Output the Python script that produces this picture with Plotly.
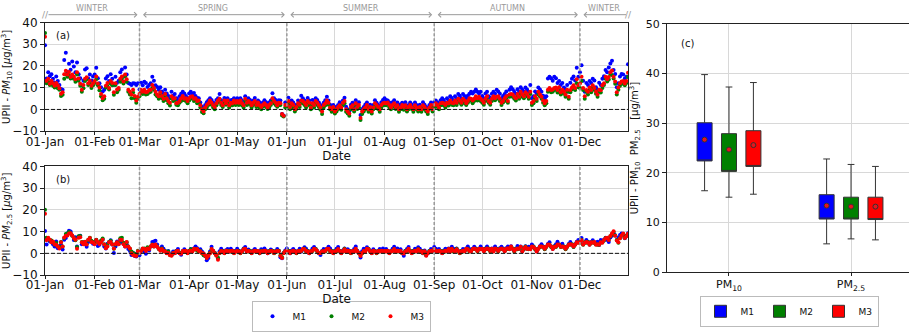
import pandas as pd
import plotly.graph_objects as go

# ---------------- data ----------------
dates = pd.date_range("2019-01-01", "2019-12-31", freq="D")

pm10_m1 = [
    29.5, 14.2, 17.1, 15.3, 16.2, 14.1, 12.4, 15.2, 13.1, 11.3, 9.4, 9.1, 22.8, 26.1, 17.2, 21.0, 18.3, 22.1, 19.8, 17.1, 21.6, 16.2, 14.3, 11.1, 13.2, 18.4, 18.9, 14.2, 16.1, 13.3, 15.2,
    16.1, 19.2, 14.3, 12.1, 10.2, 8.3, 9.1, 14.2, 15.3, 13.1, 16.2, 14.1, 11.2, 15.1, 12.3, 13.2, 17.1, 18.4, 15.2, 19.3, 16.1, 12.2, 11.8, 11.2, 12.1, 11.9, 11.3, 12.0,
    9.2, 12.3, 11.1, 12.8, 12.2, 10.3, 11.2, 12.1, 15.0, 13.2, 11.1, 10.3, 9.1, 10.2, 8.3, 7.2, 9.1, 7.3, 6.2, 5.1, 8.2, 6.3, 7.1, 5.2, 4.3, 6.1, 7.2, 8.1, 7.3, 6.2, 5.3,
    7.3, 8.1, 7.2, 7.6, 6.2, 5.3, 5.1, 3.2, 1.3, 0.2, 2.1, 3.3, 4.2, 5.1, 4.3, 3.2, 2.1, 4.4, 5.2, 7.1, 4.2, 3.1, 5.3, 4.2, 5.1, 3.3, 4.2, 4.5, 5.1, 4.2,
    5.1, 4.3, 5.2, 4.1, 3.3, 6.1, 4.2, 5.1, 4.3, 3.2, 4.1, 5.3, 3.2, 4.1, 3.3, 2.2, 3.1, 4.2, 3.3, 2.1, 3.2, 4.1, 7.5, 5.2, 4.3, 3.1, 4.2, 4.1, -2.1, -2.8, 3.2,
    3.3, 5.4, 2.2, 4.1, 3.2, 1.3, 2.2, 4.1, 3.3, 6.3, 5.2, 4.1, 3.2, 5.3, 4.1, 2.2, 4.3, 3.1, 5.2, 4.3, 3.2, 2.1, 0.2, 3.1, 4.2, 5.8, 4.1, 2.2, 1.3, 2.1,
    0.3, 1.2, 2.1, 3.3, 2.2, 4.1, 5.4, 1.2, 0.1, -0.9, 2.2, 3.1, 1.3, 4.2, 2.1, 3.3, -2.6, 0.2, 1.1, 2.3, 3.2, 1.1, 2.2, 0.3, 2.1, 4.2, 3.1, 2.2, 1.1, 3.3, 4.4,
    5.1, 4.3, 4.1, 3.2, 2.1, 3.3, 4.2, 2.1, 3.2, 1.1, 2.3, 3.1, 2.2, 3.3, 1.2, 2.1, 3.2, 2.3, 1.1, 3.2, 2.1, 1.3, 2.2, 1.1, 3.3, 2.2, 1.1, 0.3, 2.1, 3.2, 1.2,
    3.3, 4.1, 3.2, 2.3, 4.2, 5.1, 4.3, 3.2, 5.1, 4.2, 6.1, 5.3, 4.2, 6.1, 5.2, 7.1, 6.3, 5.2, 7.1, 6.2, 5.1, 6.3, 7.2, 8.1, 7.3, 8.2, 9.2, 8.1, 7.3, 8.2,
    6.2, 5.1, 7.3, 8.2, 6.1, 5.3, 7.2, 8.1, 7.2, 9.1, 8.3, 7.2, 5.1, 6.2, 7.1, 8.3, 6.2, 9.1, 10.2, 9.3, 8.1, 7.2, 9.3, 8.1, 10.2, 9.1, 8.3, 10.1, 9.2, 8.1, 11.2,
    5.2, 6.1, 8.3, 7.2, 10.1, 9.2, 8.1, 6.3, 5.2, 6.1, 14.2, 15.1, 14.3, 13.2, 15.1, 14.3, 12.2, 13.1, 11.3, 12.2, 10.1, 9.3, 11.2, 8.1, 12.3, 14.1, 15.2, 13.3, 19.2, 15.1,
    17.1, 20.3, 13.2, 8.1, 12.2, 11.3, 13.1, 12.2, 14.1, 13.3, 10.2, 9.1, 12.3, 11.2, 14.1, 15.3, 18.2, 17.1, 19.3, 21.2, 22.4, 18.1, 16.3, 10.2, 12.1, 15.2, 16.3, 16.1, 14.2, 15.1, 20.8,
]

pm10_m2 = [
    35.2, 12.1, 12.8, 11.3, 12.2, 10.9, 10.1, 11.2, 9.8, 9.1, 6.2, 6.8, 14.1, 16.2, 15.1, 15.8, 14.2, 14.9, 14.1, 12.8, 16.1, 13.2, 10.9, 8.1, 9.8, 13.1, 13.9, 11.2, 12.1, 9.9, 11.1,
    12.2, 13.9, 11.1, 8.8, 6.1, 4.2, 4.9, 10.1, 10.8, 9.2, 11.9, 11.1, 6.8, 11.2, 7.9, 9.1, 12.8, 14.1, 11.9, 15.2, 12.8, 8.1, 6.9, 5.1, 7.8, 5.2, 3.1, 4.9,
    6.1, 7.9, 7.1, 8.2, 6.9, 7.1, 7.8, 8.1, 9.9, 9.1, 6.9, 6.1, 4.9, 7.1, 5.1, 3.9, 6.1, 4.2, 2.9, 1.8, 5.1, 3.9, 4.1, 2.2, 1.9, 3.1, 3.9, 5.1, 4.2, 3.9, 2.9,
    4.1, 4.9, 5.1, 3.9, 4.2, 2.9, 3.1, 0.9, -1.2, -1.8, 0.1, 0.9, 2.1, 2.9, 2.2, 0.9, 0.1, 1.9, 3.1, 3.8, 2.1, 1.1, 2.9, 2.2, 3.1, 0.9, 2.1, 1.9, 3.2, 2.1,
    2.9, 2.1, 3.2, 1.9, 0.9, 3.9, 2.1, 2.8, 2.2, 0.9, 2.1, 2.9, 1.1, 2.2, 0.9, 0.1, 1.2, 1.9, 1.1, 0.2, 0.9, 2.1, 3.9, 2.9, 2.1, 1.2, 1.9, 2.1, -2.8, -3.2, 0.9,
    1.1, 2.9, 0.1, 2.1, 0.9, -0.9, 0.2, 1.9, 1.1, 3.1, 2.8, 2.1, 0.9, 3.2, 1.9, 0.1, 2.1, 0.9, 2.9, 2.1, 1.1, -0.1, -2.1, 0.9, 1.9, 3.1, 2.2, 0.1, -1.1, 0.2,
    -1.9, -0.9, 0.2, 1.1, -0.1, 1.9, 2.9, -1.1, -1.9, -2.9, 0.1, 1.1, -0.9, 2.1, 0.2, 0.9, -4.8, -2.1, -0.9, 0.1, 1.1, -1.1, 0.2, -1.9, 0.1, 2.1, 0.9, 0.2, -1.1, 0.9, 1.9,
    2.1, 1.9, 2.2, 0.9, 0.1, 1.1, 1.9, 0.2, 0.9, -1.1, 0.1, 0.9, -0.1, 1.1, -0.9, 0.1, 0.9, 0.2, -1.1, 0.9, 0.1, -0.9, 0.2, -1.1, 0.9, 0.1, -0.9, -2.1, 0.2, 1.1, -0.9,
    0.9, 2.1, 1.1, 0.1, 1.9, 2.2, 1.9, 0.9, 2.1, 1.8, 3.1, 2.2, 1.9, 3.1, 2.1, 3.9, 3.1, 2.2, 3.9, 2.9, 2.1, 3.1, 3.9, 4.2, 2.9, 3.9, 5.1, 4.1, 4.9, 3.9,
    3.1, 2.2, 3.9, 4.8, 3.1, 2.2, 3.9, 5.1, 4.2, 4.9, 5.1, 3.9, 2.1, 3.2, 3.9, 5.1, 3.1, 5.9, 6.1, 5.9, 4.9, 4.1, 6.1, 4.9, 7.1, 5.9, 5.1, 6.9, 6.1, 4.9, 7.1,
    2.1, 2.9, 5.1, 3.9, 6.9, 6.1, 4.9, 3.1, 1.9, 2.9, 8.1, 8.9, 7.9, 8.2, 8.9, 9.1, 7.8, 9.2, 6.9, 8.1, 7.2, 5.9, 8.1, 4.9, 7.9, 9.2, 10.1, 8.9, 12.1, 10.2,
    9.9, 13.1, 8.9, 4.9, 8.1, 6.9, 9.2, 7.9, 10.1, 8.9, 7.2, 5.9, 8.1, 7.8, 9.9, 11.2, 14.1, 12.9, 13.8, 16.1, 15.9, 14.2, 11.8, 6.9, 9.1, 10.9, 12.1, 11.8, 11.1, 12.2, 14.9,
]

pm10_m3 = [
    33.4, 13.2, 14.1, 11.8, 13.2, 12.1, 10.9, 12.2, 11.1, 9.8, 7.2, 7.9, 16.2, 17.8, 16.1, 17.2, 14.9, 16.1, 15.2, 13.9, 17.1, 14.2, 11.8, 9.1, 11.2, 14.1, 14.8, 12.1, 13.2, 10.9, 12.1,
    13.1, 15.2, 11.9, 10.1, 7.1, 5.2, 6.1, 10.9, 12.2, 9.9, 13.1, 12.2, 7.9, 12.1, 9.2, 9.9, 14.1, 15.2, 12.9, 16.1, 13.9, 9.1, 8.2, 6.9, 9.1, 6.2, 4.1, 5.9,
    7.1, 8.9, 8.2, 9.1, 7.9, 8.2, 8.9, 9.1, 11.2, 9.9, 8.1, 6.9, 6.1, 7.9, 6.2, 4.9, 7.1, 5.1, 3.9, 3.1, 6.1, 4.9, 5.2, 2.9, 3.1, 3.9, 5.1, 6.2, 4.9, 5.1, 3.9,
    5.1, 5.9, 6.1, 4.9, 5.2, 3.9, 4.1, 1.9, 0.1, -0.9, 0.9, 2.1, 2.9, 4.1, 3.1, 1.9, 1.1, 2.9, 4.1, 4.9, 3.1, 1.9, 4.1, 2.9, 4.1, 1.9, 3.1, 2.9, 4.1, 3.1,
    3.9, 3.1, 4.1, 2.9, 1.9, 4.9, 3.1, 3.9, 3.2, 1.9, 3.1, 3.9, 2.1, 3.2, 1.9, 1.1, 2.1, 2.9, 2.1, 0.9, 2.1, 2.9, 5.1, 3.9, 3.1, 1.9, 3.1, 2.9, -2.1, -2.9, 2.1,
    2.1, 3.9, 1.1, 2.9, 2.1, 0.1, 1.1, 2.9, 2.2, 4.1, 3.9, 3.1, 2.1, 3.9, 3.1, 0.9, 2.9, 2.1, 3.9, 3.1, 2.1, 0.9, -0.9, 2.1, 2.9, 4.1, 3.1, 0.9, 0.1, 1.1,
    -0.9, 0.1, 1.1, 1.9, 0.9, 3.1, 3.9, 0.1, -0.9, -1.9, 1.1, 1.9, 0.1, 2.9, 1.1, 2.1, -3.9, -0.9, 0.1, 0.9, 2.1, 0.1, 1.1, -0.9, 0.9, 2.9, 2.1, 1.1, 0.1, 2.1, 2.9,
    3.1, 2.9, 3.2, 2.1, 0.9, 2.1, 2.9, 1.1, 1.9, 0.1, 0.9, 2.1, 1.1, 1.9, 0.1, 1.1, 2.1, 0.9, 0.1, 1.9, 0.9, 0.1, 1.1, 0.1, 1.9, 1.1, 0.1, -0.9, 0.9, 2.1, 0.1,
    2.1, 2.9, 2.1, 0.9, 2.9, 3.1, 2.9, 2.1, 3.1, 2.9, 4.1, 3.1, 2.9, 4.1, 3.1, 4.9, 4.1, 3.1, 4.9, 4.1, 2.9, 3.9, 5.1, 4.9, 4.1, 4.9, 6.1, 5.1, 5.9, 4.9,
    4.1, 3.1, 4.9, 6.1, 3.9, 3.1, 4.9, 6.1, 5.1, 5.9, 6.1, 4.9, 3.1, 3.9, 5.1, 6.1, 3.9, 6.9, 7.1, 6.9, 5.9, 5.1, 7.1, 5.9, 8.1, 6.9, 6.1, 7.9, 7.1, 5.9, 8.1,
    3.1, 3.9, 6.1, 4.9, 8.1, 6.9, 5.9, 4.1, 2.9, 3.9, 9.1, 9.9, 8.9, 9.2, 9.9, 10.1, 8.9, 10.2, 7.9, 9.1, 8.1, 6.9, 9.1, 5.9, 8.9, 10.1, 11.1, 9.9, 13.9, 11.1,
    11.9, 15.1, 9.9, 6.1, 8.9, 8.1, 10.1, 8.9, 11.1, 9.9, 8.1, 6.9, 9.1, 8.8, 11.1, 12.1, 15.1, 13.9, 14.9, 17.1, 17.9, 15.1, 12.9, 7.9, 10.1, 12.1, 12.9, 13.1, 11.9, 13.1, 16.9,
]

pm25_m1 = [
    10.3, 4.1, 6.2, 5.4, 5.8, 4.2, 3.1, 5.5, 2.4, 3.3, 4.0, 1.8, 6.3, 7.1, 9.2, 10.4, 10.1, 8.2, 6.1, 7.4, 3.2, 7.8, 8.1, 4.2, 5.1, 4.3, 3.0, 5.2, 6.1, 5.3, 4.4,
    5.2, 6.1, 3.4, 4.0, 5.3, 6.2, 3.1, 2.2, 4.4, 5.1, 6.0, 4.1, 0.2, 3.2, 5.4, 4.3, 6.1, 5.2, 4.4, 3.1, 4.2, 2.0, 1.1, -0.8, 0.3, -1.2, -1.5, 0.1,
    -0.9, 1.2, 2.1, 0.8, -0.2, 1.9, 1.3, 3.1, 5.2, 5.4, 5.8, 4.1, 2.2, 1.8, 3.2, 2.1, 1.0, 0.2, 1.1, -0.3, -0.8, 0.9, 0.1, 1.2, 2.0, 0.3, -0.6, 1.1, 1.9, 0.8, 0.2,
    1.1, 2.0, 1.3, 2.2, 3.1, 2.4, 1.2, 1.9, 0.8, -0.1, -1.2, -3.2, -2.1, 0.9, 3.0, 1.1, 0.2, -0.8, -2.3, 1.0, 2.1, 1.2, 0.3, 1.4, 2.0, 0.9, 2.1, 1.3, 0.4, 1.2,
    2.1, 1.2, 0.3, 1.1, 2.2, 2.9, 1.0, 1.8, 1.1, 0.2, 1.3, 2.0, 1.2, 0.8, 0.1, 1.9, 1.1, 2.2, 1.3, 0.1, 1.0, 1.8, 1.2, 0.3, 1.1, 2.0, 1.2, -1.8, -2.2, 0.2, 1.3,
    2.2, 1.1, 0.1, 1.3, 2.0, 1.2, 0.2, 1.1, 2.1, 0.9, 1.8, 2.8, 2.1, 1.2, 0.1, 1.0, 2.2, 2.9, 2.0, 1.1, 0.2, -0.8, 1.1, 2.0, 1.2, 2.1, 3.0, 2.2, 1.1, 0.3,
    1.2, 2.1, 2.9, 1.0, 0.2, 1.3, 2.2, 1.1, 1.9, 1.2, 0.3, 1.1, 2.0, 3.1, 1.2, 0.1, -1.9, 1.0, 2.1, 1.3, 2.8, 2.0, 1.2, 0.2, 1.9, 1.0, 0.3, 1.2, 2.0, 1.1, 2.2,
    1.1, 2.0, 1.2, 0.3, 1.1, 2.1, 3.0, 1.2, 2.2, 1.0, 1.9, 0.2, -1.1, 1.2, 2.0, 2.9, 1.1, 0.3, 1.2, 2.1, 1.0, 2.8, 2.1, 1.2, 0.1, 1.3, -0.9, 0.2, 1.1, 2.0, 1.2,
    2.9, 2.1, 1.2, 2.0, 1.1, 0.2, 1.3, 2.1, 1.0, 2.2, 1.1, 3.0, 2.1, 1.3, 2.2, 1.1, 0.3, 1.2, 2.0, 1.1, 2.2, 3.1, 2.0, 1.2, 2.1, 3.0, 2.2, 1.3, 2.1, 3.2,
    2.1, 1.2, 2.2, 3.1, 2.0, 1.3, 2.2, 1.1, 3.2, 2.1, 1.2, 2.3, 3.0, 2.2, 1.1, 2.4, 3.1, 2.2, 3.3, 2.1, 1.2, 2.2, 3.4, 2.1, 3.2, 1.0, 2.2, 3.3, 2.1, 3.0, 2.2,
    4.1, 3.2, 2.1, 1.0, 2.2, 3.3, 4.2, 3.1, 2.0, 3.2, 4.3, 5.1, 3.2, 2.1, 3.3, 4.2, 5.3, 4.1, 3.2, 4.4, 3.1, 2.0, 3.2, 4.3, 5.2, 4.1, 3.0, 4.2, 5.3, 6.1,
    5.2, 7.1, 4.2, 5.0, 6.1, 5.3, 4.1, 5.2, 6.0, 5.1, 4.2, 5.3, 3.8, 6.1, 5.2, 6.3, 7.2, 6.1, 5.2, 7.3, 8.1, 9.2, 8.3, 6.1, 7.2, 8.4, 9.1, 8.2, 6.9, 8.1, 9.3,
]

pm25_m2 = [
    20.1, 7.2, 7.0, 6.1, 5.9, 5.2, 4.1, 4.8, 3.2, 3.0, 5.2, 3.1, 7.1, 8.9, 9.1, 9.8, 9.2, 8.1, 7.2, 6.0, 2.9, 7.9, 8.0, 5.2, 4.9, 5.1, 4.2, 6.1, 7.2, 5.8, 5.2,
    4.9, 6.2, 5.1, 4.8, 5.9, 6.8, 4.2, 2.9, 3.8, 5.2, 5.8, 4.2, 2.1, 4.1, 5.0, 4.8, 6.9, 7.2, 4.9, 3.8, 5.1, 3.2, 2.1, 0.9, 0.1, -0.2, -0.9, 1.2,
    0.1, 1.2, 2.0, 2.2, 1.9, 2.8, 2.1, 3.2, 4.1, 3.1, 3.9, 3.2, 2.0, 1.9, 2.2, 1.0, 1.1, 0.2, 0.9, -0.8, -0.9, 0.1, 0.2, 1.1, 0.9, 0.2, 0.1, 0.9, 1.1, 1.0, 0.2,
    1.1, 1.9, 1.0, 2.0, 2.1, 1.2, 0.9, 1.1, 0.1, -0.9, -1.1, -1.9, -0.8, 0.2, 1.9, 1.0, 0.2, -0.9, -2.0, 0.1, 1.0, 1.1, 0.2, 0.9, 1.2, 1.0, 0.9, 1.1, 0.2, 1.0,
    0.9, 1.1, 0.1, 0.9, 2.0, 1.9, 1.1, 0.9, 1.2, 0.2, 0.9, 1.0, 1.1, 0.9, 0.1, 1.2, 0.9, 1.0, 0.9, 0.2, 1.1, 0.9, 1.2, 0.1, 1.0, 0.9, 1.2, -0.9, -1.8, 0.2, 0.9,
    0.9, 1.2, 0.2, 0.9, 1.1, 1.0, 0.1, 0.9, 1.2, 1.1, 1.9, 2.1, 0.9, 1.1, 0.2, 0.9, 1.1, 1.9, 2.0, 0.9, 0.2, 0.1, 0.9, 1.1, 1.0, 1.9, 2.0, 0.9, 1.1, 0.2,
    1.1, 0.9, 1.9, 1.2, 0.2, 0.9, 2.1, 1.0, 0.9, 1.1, 0.1, 0.9, 1.1, 1.9, 0.9, 0.2, -0.9, 0.1, 0.9, 1.1, 1.9, 2.1, 0.9, 0.2, 1.0, 1.1, 0.1, 0.9, 1.2, 1.0, 0.9,
    0.9, 1.1, 1.0, 0.2, 0.9, 1.2, 1.9, 1.1, 0.9, 1.2, 0.9, 0.1, 0.2, 1.1, 0.9, 1.9, 1.2, 0.2, 1.1, 0.9, 1.2, 2.0, 0.9, 1.1, 0.1, 0.9, -0.8, 0.2, 1.1, 0.9, 1.2,
    1.9, 1.2, 1.0, 0.9, 1.2, 0.2, 1.1, 0.9, 1.2, 1.9, 1.1, 2.0, 0.9, 1.2, 2.1, 0.9, 0.1, 1.1, 0.9, 1.2, 1.9, 2.1, 0.9, 1.1, 1.9, 2.0, 2.1, 0.9, 1.9, 2.1,
    1.9, 1.1, 2.1, 1.9, 2.2, 0.9, 1.9, 1.1, 2.0, 2.1, 0.9, 1.9, 2.1, 2.0, 1.1, 1.9, 2.1, 2.0, 2.9, 2.2, 0.9, 2.1, 1.9, 2.2, 2.9, 1.1, 1.9, 3.1, 2.2, 1.9, 2.1,
    2.9, 3.1, 1.9, 1.1, 2.1, 2.9, 3.1, 3.0, 1.9, 2.9, 3.9, 4.1, 2.9, 2.2, 3.1, 2.9, 3.9, 4.1, 2.9, 3.2, 3.1, 1.9, 2.9, 4.1, 3.9, 4.2, 2.9, 4.1, 4.9, 5.1,
    4.9, 6.1, 3.9, 5.1, 4.9, 5.2, 4.1, 4.9, 5.1, 4.8, 4.2, 3.9, 4.1, 4.9, 5.1, 5.9, 7.1, 6.9, 6.2, 7.9, 8.9, 9.8, 8.2, 6.1, 4.9, 6.9, 8.1, 8.9, 7.2, 8.1, 8.8,
]

pm25_m3 = [
    18.2, 6.1, 7.2, 6.3, 5.1, 5.4, 4.2, 4.0, 3.1, 2.2, 5.1, 3.2, 7.3, 8.1, 8.2, 9.1, 9.3, 8.2, 7.1, 6.2, 2.1, 7.2, 7.4, 5.1, 4.2, 5.3, 4.1, 6.2, 7.1, 5.2, 5.0,
    4.2, 6.1, 5.2, 4.3, 5.1, 6.2, 4.1, 2.3, 3.2, 5.1, 5.2, 4.1, 2.2, 4.3, 5.1, 4.2, 6.3, 6.1, 4.2, 3.1, 5.2, 3.1, 2.2, 0.1, -0.8, -1.1, -1.2, 1.0,
    0.2, 1.1, 2.2, 2.0, 1.1, 2.2, 1.9, 3.1, 4.0, 3.2, 4.1, 3.0, 2.1, 1.2, 2.0, 1.1, 0.9, 0.1, 0.2, -0.9, -1.1, 0.2, 0.1, 1.0, 1.2, 0.1, -0.2, 1.1, 0.9, 1.2, 0.1,
    1.0, 1.2, 0.9, 2.1, 1.8, 2.0, 1.1, 0.9, 0.2, -0.1, -1.0, -2.1, -1.2, 0.1, 2.0, 1.2, 0.1, -1.1, -3.0, 0.2, 1.1, 0.9, 0.1, 1.2, 1.0, 0.8, 1.1, 1.2, 0.1, 0.9,
    1.1, 0.9, 0.2, 1.0, 1.9, 2.1, 0.8, 1.1, 0.9, 0.1, 1.0, 1.2, 0.9, 1.1, 0.2, 1.0, 0.8, 1.2, 1.1, 0.1, 0.9, 1.1, 1.0, 0.2, 0.9, 1.1, 1.0, -1.2, -2.1, 0.1, 1.0,
    1.1, 0.9, 0.1, 1.0, 1.2, 0.8, 0.2, 1.1, 0.9, 1.2, 2.0, 1.9, 1.1, 0.9, 0.1, 1.0, 1.2, 2.1, 1.8, 1.1, 0.1, 0.2, 1.0, 0.9, 1.2, 2.0, 2.1, 1.1, 0.9, 0.1,
    0.9, 1.2, 2.0, 1.1, 0.1, 1.0, 1.9, 0.9, 1.2, 1.0, 0.2, 1.1, 0.9, 2.1, 1.0, 0.1, -1.2, 0.2, 1.1, 0.9, 2.1, 1.9, 1.0, 0.1, 1.2, 0.9, 0.2, 1.1, 0.9, 1.2, 1.0,
    1.1, 0.9, 1.2, 0.1, 1.0, 1.1, 2.0, 0.9, 1.2, 1.0, 1.1, 0.2, -0.1, 0.9, 1.2, 2.1, 1.0, 0.1, 0.9, 1.2, 1.0, 1.9, 1.1, 0.9, 0.2, 1.0, -1.1, 0.1, 0.9, 1.2, 1.0,
    2.0, 1.1, 0.9, 1.2, 1.0, 0.1, 0.9, 1.2, 1.1, 2.0, 0.9, 2.1, 1.2, 1.0, 1.9, 1.1, 0.2, 0.9, 1.2, 1.0, 2.1, 1.9, 1.1, 0.9, 2.0, 2.2, 1.9, 1.1, 2.1, 1.9,
    2.1, 1.0, 1.9, 2.2, 2.0, 1.1, 2.1, 0.9, 2.2, 1.9, 1.1, 2.0, 2.2, 1.9, 1.0, 2.1, 2.3, 1.9, 3.1, 2.0, 1.1, 1.9, 2.2, 2.1, 3.0, 0.9, 2.1, 2.9, 2.0, 2.2, 1.9,
    3.1, 2.9, 2.1, 0.9, 2.0, 3.1, 3.2, 2.9, 2.1, 3.0, 4.1, 3.9, 3.1, 2.0, 2.9, 3.2, 4.1, 3.9, 3.0, 3.1, 2.9, 2.1, 3.0, 3.9, 4.2, 4.0, 3.1, 3.9, 5.1, 4.9,
    5.1, 6.0, 4.1, 4.9, 5.2, 5.0, 3.9, 5.1, 4.9, 5.2, 4.0, 4.2, 3.9, 5.1, 4.9, 6.1, 7.0, 7.2, 6.1, 8.0, 9.1, 10.2, 8.1, 5.9, 5.1, 7.0, 8.2, 9.1, 7.1, 7.9, 9.0,
]

methods = ["M1", "M2", "M3"]
method_colors = ["#0000ff", "#008000", "#ff0000"]

season_names = ["WINTER", "SPRING", "SUMMER", "AUTUMN", "WINTER"]
season_bounds = ["2019-01-01", "2019-03-01", "2019-06-01", "2019-09-01", "2019-12-01", "2019-12-31"]

box_categories = ["PM<sub>10</sub>", "PM<sub>2.5</sub>"]
box_lower = {"M1": [16.4, 5.7], "M2": [15.1, 6.7], "M3": [15.7, 6.5]}
box_q1 = {"M1": [22.4, 10.7], "M2": [20.3, 10.7], "M3": [21.3, 10.6]}
box_q3 = {"M1": [30.1, 15.6], "M2": [27.9, 15.1], "M3": [28.5, 15.1]}
box_upper = {"M1": [39.8, 22.8], "M2": [37.3, 21.7], "M3": [38.2, 21.3]}
box_mean = {"M1": [26.7, 13.4], "M2": [24.7, 13.2], "M3": [25.6, 13.2]}

for name, s in [("pm10_m1", pm10_m1), ("pm10_m2", pm10_m2), ("pm10_m3", pm10_m3),
                ("pm25_m1", pm25_m1), ("pm25_m2", pm25_m2), ("pm25_m3", pm25_m3)]:
    assert len(s) == len(dates), (name, len(s))

# ---------------- figure ----------------
FONT = "DejaVu Sans"
W, H = 909, 332
fig = go.Figure()

pm10 = [pm10_m1, pm10_m2, pm10_m3]
pm25 = [pm25_m1, pm25_m2, pm25_m3]
for i, m in enumerate(methods):
    fig.add_trace(go.Scatter(x=dates, y=pm10[i], mode="markers", name=m,
                             marker=dict(color=method_colors[i], size=4),
                             xaxis="x", yaxis="y", legend="legend", showlegend=True))
for i, m in enumerate(methods):
    fig.add_trace(go.Scatter(x=dates, y=pm25[i], mode="markers", name=m,
                             marker=dict(color=method_colors[i], size=4),
                             xaxis="x2", yaxis="y2", showlegend=False))

# box plots (median is not drawn in the source; it is placed on the Q1 edge)
offsets = [-0.2, 0.0, 0.2]
for i, m in enumerate(methods):
    pos = [c + offsets[i] for c in range(len(box_categories))]
    fig.add_trace(go.Box(x=pos, q1=box_q1[m], median=box_q1[m], q3=box_q3[m],
                         lowerfence=box_lower[m], upperfence=box_upper[m],
                         width=0.123, whiskerwidth=0.45, name=m,
                         fillcolor=method_colors[i], line=dict(color="#333333", width=1),
                         xaxis="x3", yaxis="y3", legend="legend2", hoverinfo="skip"))
for i, m in enumerate(methods):
    pos = [c + offsets[i] for c in range(len(box_categories))]
    fig.add_trace(go.Scatter(x=pos, y=box_mean[m], mode="markers", showlegend=False,
                             marker=dict(color="#e8141c", size=5, line=dict(color="#333333", width=1)),
                             xaxis="x3", yaxis="y3"))

axis_common = dict(showline=True, linecolor="#222222", linewidth=1, mirror=True,
                   showgrid=True, gridcolor="#d8d8d8", gridwidth=1, zeroline=False,
                   ticks="outside", ticklen=4, tickcolor="#222222",
                   tickfont=dict(family=FONT, size=12, color="#111111"), automargin=False)

xdom = [45 / W, 628 / W]
date_axis = dict(axis_common, type="date", range=[season_bounds[0], season_bounds[-1]],
                 dtick="M1", tick0=season_bounds[0], tickformat="%d-%b", domain=xdom,
                 ticklen=3, ticklabelstandoff=-4)
fig.update_layout(
    xaxis=dict(date_axis, anchor="y",
               title=dict(text="Date", font=dict(family=FONT, size=12), standoff=0)),
    yaxis=dict(axis_common, range=[-10, 40], dtick=10, anchor="x",
               domain=[1 - 134 / H, 1 - 23 / H],
               title=dict(text="UPII - <i>PM</i><sub>10</sub> [<i>μ</i>g/m<sup>3</sup>]",
                          font=dict(family=FONT, size=10), standoff=4)),
    xaxis2=dict(date_axis, anchor="y2",
                title=dict(text="Date", font=dict(family=FONT, size=12), standoff=0)),
    yaxis2=dict(axis_common, range=[-10, 40], dtick=10, anchor="x2",
                domain=[1 - 281 / H, 1 - 170 / H],
                title=dict(text="UPII - <i>PM</i><sub>2.5</sub> [<i>μ</i>g/m<sup>3</sup>]",
                           font=dict(family=FONT, size=10), standoff=4)),
    xaxis3=dict(axis_common, range=[-0.508, 1.475], tickvals=[0, 1], ticktext=box_categories,
                anchor="y3", domain=[667 / W, 1.0], ticklen=3, ticklabelstandoff=-1,
                tickfont=dict(family=FONT, size=11, color="#111111")),
    yaxis3=dict(axis_common, range=[0, 50], dtick=10, anchor="x3",
                domain=[1 - 278 / H, 1 - 24.5 / H], tickfont=dict(family=FONT, size=11, color="#111111"),
                title=dict(text="UPII - PM<sub>10</sub>  PM<sub>2.5</sub>   [μg/m<sup>3</sup>]",
                           font=dict(family=FONT, size=10), standoff=5)),
    width=W, height=H, autosize=False,
    margin=dict(l=0, r=0, t=0, b=0),
    paper_bgcolor="white", plot_bgcolor="white",
    font=dict(family=FONT, size=11, color="#111111"),
    legend=dict(orientation="h", x=341 / W, y=1 - 323 / H, xanchor="center", yanchor="middle",
                bordercolor="#bbbbbb", borderwidth=1, bgcolor="white",
                font=dict(family=FONT, size=9), itemwidth=30, entrywidth=14, tracegroupgap=0),
    legend2=dict(orientation="h", x=789 / W, y=1 - 318 / H, xanchor="center", yanchor="middle",
                 bordercolor="#bbbbbb", borderwidth=1, bgcolor="white",
                 font=dict(family=FONT, size=9), itemwidth=30, entrywidth=14),
    showlegend=True,
)

shapes = []
for xa, ya in [("x", "y"), ("x2", "y2")]:
    shapes.append(dict(type="line", xref=f"{xa} domain", yref=ya, x0=0, x1=1, y0=0, y1=0,
                       line=dict(color="#111111", width=1, dash="4px,2px")))
    for b in season_bounds[1:-1]:
        shapes.append(dict(type="line", xref=xa, yref=f"{ya} domain", x0=b, x1=b, y0=0, y1=1,
                           line=dict(color="#999999", width=1.5, dash="3px,2px")))
fig.update_layout(shapes=shapes)

ann = []
arrow_y = 1 - 15 / H
label_y = 1 - 9 / H
for k, name in enumerate(season_names):
    start, end = season_bounds[k], season_bounds[k + 1]
    side = "end+start"
    if k == 0:
        side = "end"
    elif k == len(season_names) - 1:
        side = "start"
    ann.append(dict(x=end, y=arrow_y, xref="x", yref="paper", ax=start, ay=0, axref="x", ayref="pixel",
                    text="", showarrow=True, arrowhead=4, startarrowhead=4, arrowside=side,
                    arrowsize=1, startarrowsize=1, arrowwidth=1, arrowcolor="#9a9a9a",
                    standoff=2, startstandoff=2))
    mid = pd.Timestamp(start) + (pd.Timestamp(end) - pd.Timestamp(start)) / 2
    ann.append(dict(x=mid, y=label_y, xref="x", yref="paper", text=name, showarrow=False,
                    font=dict(family=FONT, size=8, color="#999999"), yanchor="middle"))
for b in [season_bounds[0], season_bounds[-1]]:
    ann.append(dict(x=b, y=arrow_y, xref="x", yref="paper", text="//", showarrow=False,
                    font=dict(family=FONT, size=9, color="#999999"), yanchor="middle"))
for label, xa, ya in [("(a)", "x", "y"), ("(b)", "x2", "y2"), ("(c)", "x3", "y3")]:
    ann.append(dict(x=0.015 if xa != "x3" else 0.05, y=0.95, xref=f"{xa} domain", yref=f"{ya} domain",
                    text=label, showarrow=False, xanchor="left", yanchor="top",
                    font=dict(family=FONT, size=10, color="#111111")))
fig.update_layout(annotations=ann)

fig.write_html("out.html", config={"displayModeBar": False},
               post_script="document.body.style.margin='0';document.body.style.overflow='hidden';")
